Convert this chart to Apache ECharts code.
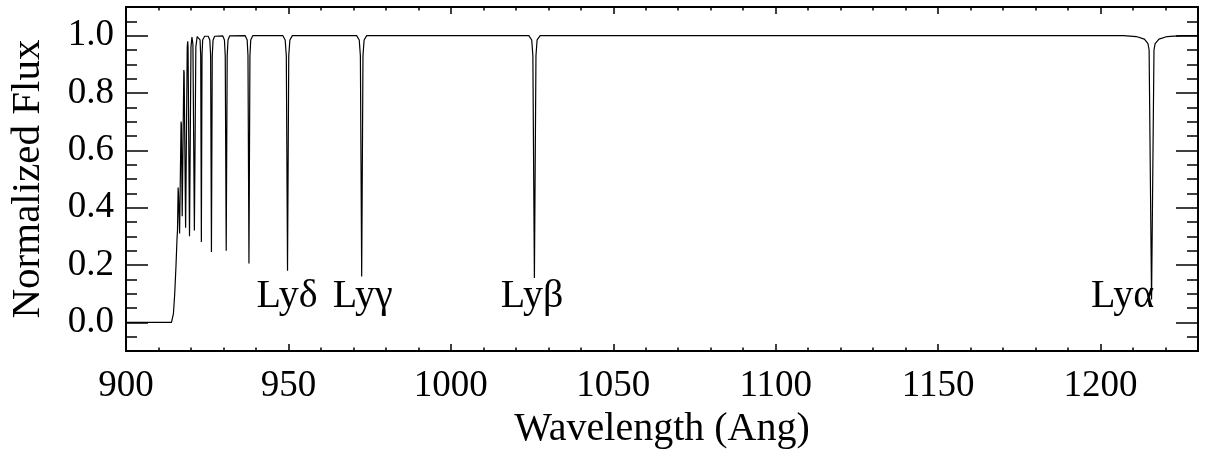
<!DOCTYPE html>
<html>
<head>
<meta charset="utf-8">
<script src="https://cdn.jsdelivr.net/npm/echarts@6/dist/echarts.min.js"></script>
<style>
  html, body { margin: 0; padding: 0; background: #fff; }
  #chart { width: 1212px; height: 451px; }
</style>
</head>
<body>
<div id="chart"></div>
<script>
// wavelength (Ang) / normalized flux
var spectrum = [
    // Lyman limit and the crowded high-order lines
    [900.0, 0.000], [914.0, 0.000], [914.3, 0.006], [914.6, 0.030], [915.0, 0.100],
    [915.4, 0.200], [915.7, 0.290], [915.85, 0.320], [916.05, 0.470], [916.15, 0.450],
    [916.5, 0.310], [916.95, 0.700], [917.05, 0.690], [917.3, 0.370], [917.8, 0.880],
    [917.9, 0.870], [918.35, 0.330], [918.85, 0.960], [919.0, 0.980], [919.1, 0.960],
    [919.55, 0.300], [920.0, 0.960], [920.3, 0.995], [920.6, 0.970], [921.05, 0.320],
    [921.5, 0.960], [921.9, 0.997],
    // Ly8
    [922.4, 0.998], [922.8, 0.985], [923.0, 0.930], [923.2, 0.280], [923.4, 0.930], [923.6, 0.985], [924.2, 0.998],
    // Ly7
    [925.3, 0.998], [925.8, 0.985], [926.05, 0.930], [926.3, 0.245], [926.55, 0.930], [926.8, 0.985], [927.3, 0.998],
    // Ly6
    [929.8, 0.999], [930.3, 0.985], [930.55, 0.930], [930.85, 0.250], [931.15, 0.930], [931.4, 0.985], [931.9, 0.999],
    // Ly epsilon
    [936.7, 1.000], [937.3, 0.985], [937.55, 0.930], [937.85, 0.205], [938.15, 0.930], [938.4, 0.985], [939.0, 1.000],
    // Ly delta
    [948.3, 1.000], [949.0, 0.985], [949.35, 0.930], [949.72, 0.180], [950.1, 0.930], [950.45, 0.985], [951.2, 1.000],
    // Ly gamma
    [971.0, 1.000], [971.8, 0.985], [972.15, 0.930], [972.55, 0.160], [972.95, 0.930], [973.3, 0.985], [974.1, 1.000],
    // Ly beta
    [1024.0, 1.000], [1024.9, 0.985], [1025.25, 0.930], [1025.72, 0.155], [1026.2, 0.930], [1026.55, 0.985], [1027.5, 1.000],
    // Ly alpha
    [1207.0, 1.000], [1211.0, 0.997], [1213.5, 0.988], [1214.6, 0.972], [1214.95, 0.950], [1215.7, 0.080],
    [1216.45, 0.950], [1216.8, 0.972], [1218.0, 0.988], [1220.5, 0.997], [1225.0, 1.000], [1230.0, 1.000]
];

var xTicks = [900, 950, 1000, 1050, 1100, 1150, 1200];
var yTicks = [0.0, 0.2, 0.4, 0.6, 0.8, 1.0];
var lineNames = ['Lyδ', 'Lyγ', 'Lyβ', 'Lyα'];
var lineLabelAt = [[949.6, 0.09], [972.9, 0.09], [1025.0, 0.09], [1206.8, 0.09]];

var font = "'Liberation Serif', 'Times New Roman', serif";
var ink = '#000';

var axLine = { show: true, onZero: false, lineStyle: { color: ink, width: 2 } };

function xAx(grid, pos, major) {
    return {
        type: 'value', gridIndex: grid, position: pos,
        min: 900, max: 1230,
        interval: major ? 50 : 10,
        axisLine: axLine,
        axisTick: major
            ? { show: true, inside: true, length: 7, customValues: xTicks, lineStyle: { color: ink, width: 1.5 } }
            : { show: true, inside: true, length: 3.5, lineStyle: { color: ink, width: 1.5 } },
        axisLabel: (major && pos === 'bottom')
            ? { show: true, customValues: xTicks, margin: 17, color: ink, fontFamily: font, fontSize: 37,
                formatter: function (v) { return String(v); } }
            : { show: false },
        splitLine: { show: false }
    };
}

function yAx(grid, pos, major) {
    return {
        type: 'value', gridIndex: grid, position: pos,
        min: -0.1, max: 1.1,
        interval: major ? undefined : 0.05,
        axisLine: axLine,
        axisTick: major
            ? { show: true, inside: true, length: 22, customValues: yTicks, lineStyle: { color: ink, width: 1.5 } }
            : { show: true, inside: true, length: 11, lineStyle: { color: ink, width: 1.5 } },
        axisLabel: (major && pos === 'left')
            ? { show: true, customValues: yTicks, margin: 12, color: ink, fontFamily: font, fontSize: 37,
                formatter: function (v) { return v.toFixed(1); } }
            : { show: false },
        splitLine: { show: false }
    };
}

var xAxes = [xAx(0, 'bottom', true), xAx(0, 'top', true), xAx(1, 'bottom', false), xAx(1, 'top', false)];
xAxes[0].name = 'Wavelength (Ang)';
xAxes[0].nameLocation = 'middle';
xAxes[0].nameGap = 52;
xAxes[0].nameTextStyle = { color: ink, fontFamily: font, fontSize: 40 };

var yAxes = [yAx(0, 'left', true), yAx(0, 'right', true), yAx(1, 'left', false), yAx(1, 'right', false)];
yAxes[0].name = 'Normalized Flux';
yAxes[0].nameLocation = 'middle';
yAxes[0].nameGap = 77;
yAxes[0].nameTextStyle = { color: ink, fontFamily: font, fontSize: 41 };

var gridBox = { left: 126, right: 14, top: 7, bottom: 100, containLabel: false, outerBoundsMode: 'none' };

var chart = echarts.init(document.getElementById('chart'), null, { renderer: 'canvas' });
chart.setOption({
    animation: false,
    backgroundColor: '#fff',
    grid: [gridBox, Object.assign({}, gridBox)],
    xAxis: xAxes,
    yAxis: yAxes,
    series: [{
        type: 'line',
        xAxisIndex: 0, yAxisIndex: 0,
        data: spectrum,
        symbol: 'none',
        lineStyle: { color: ink, width: 1.2 },
        z: 3
    }, {
        type: 'scatter',
        xAxisIndex: 0, yAxisIndex: 0,
        symbolSize: 0,
        silent: true,
        itemStyle: { opacity: 1 },
        data: lineLabelAt.map(function (p, i) { return { value: p, name: lineNames[i] }; }),
        label: {
            show: true, position: 'inside', formatter: '{b}', opacity: 1,
            color: ink, fontFamily: font, fontSize: 40
        },
        z: 4
    }]
});
</script>
</body>
</html>
